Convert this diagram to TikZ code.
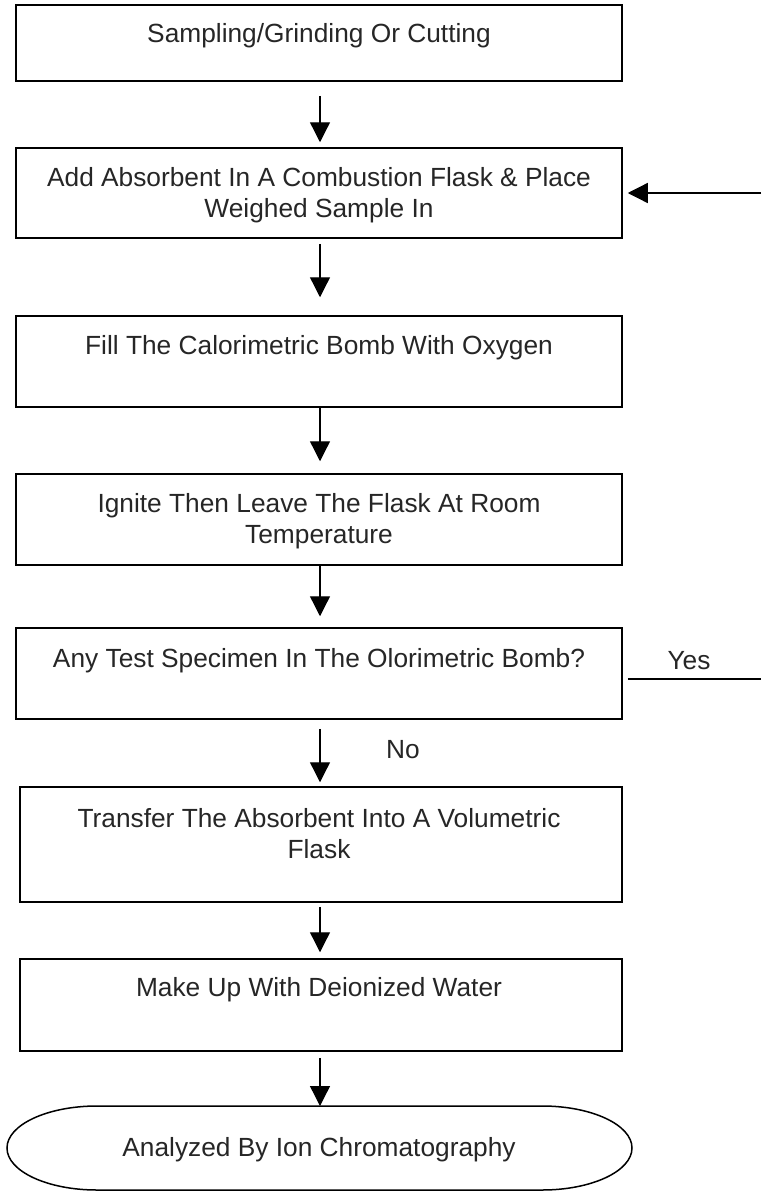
\documentclass[tikz,border=0pt]{standalone}
\usepackage{fontspec}
\setmainfont{Liberation Sans}
\usetikzlibrary{arrows.meta}
\begin{document}
\begin{tikzpicture}[x=1pt,y=-1pt,
  box/.style={draw=black,line width=1.5pt,rectangle,inner sep=0pt,minimum width=606pt},
  lbl/.style={align=center,inner sep=0pt,font=\fontsize{26.3}{31}\selectfont,text=black!85,yshift=-3pt},
  arr/.style={line width=1.3pt,-{Triangle[width=20pt,length=20pt]}},
  ln/.style={line width=1.3pt}]
\useasboundingbox (0,0) rectangle (761,1197);
% boxes
\node[box,minimum height=76pt] (b1) at (319,43) {};
\node[lbl] (t1) at (319,33) {Sampling/Grinding Or Cutting};
\node[box,minimum height=90pt] (b2) at (319,193) {};
\node[lbl] (t2) at (319,192.5) {Add Absorbent In A Combustion Flask \& Place\\Weighed Sample In};
\node[box,minimum height=91pt] (b3) at (319,361.5) {};
\node[lbl] (t3) at (319,345) {Fill The Calorimetric Bomb With Oxygen};
\node[box,minimum height=91pt] (b4) at (319,519.5) {};
\node[lbl] (t4) at (319,518.5) {Ignite Then Leave The Flask At Room\\Temperature};
\node[box,minimum height=91pt] (b5) at (319,673.5) {};
\node[lbl] (t5) at (319,658) {Any Test Specimen In The Olorimetric Bomb?};
\node[box,minimum width=602pt,minimum height=115pt] (b6) at (321,844.5) {};
\node[lbl] (t6) at (319,831) {Transfer The Absorbent Into A Volumetric\\Flask};
\node[box,minimum width=602pt,minimum height=92pt] (b7) at (321,1005) {};
\node[lbl] (t7) at (319,987) {Make Up With Deionized Water};
% terminal
\coordinate (tt) at (320,1106);
\draw[line width=1.5pt] (97,1106) -- (542,1106)
  arc[start angle=-90,end angle=90,x radius=90,y radius=42]
  -- (97,1190)
  arc[start angle=90,end angle=270,x radius=90,y radius=42] -- cycle;
\node[lbl] (t8) at (319,1147) {Analyzed By Ion Chromatography};
% labels
\node[lbl] (yes) at (689,658) {Yes};
\node[lbl] (no) at (403,747) {No};
% connectors
\coordinate (ax) at (320,0);
\draw[arr] ([yshift=-14pt]b1.south -| ax) -- ([yshift=5pt]b2.north -| ax);
\draw[arr] ([yshift=-5pt]b2.south -| ax) -- ([yshift=18pt]b3.north -| ax);
\draw[arr] (b3.south -| ax) -- ([yshift=12pt]b4.north -| ax);
\draw[arr] (b4.south -| ax) -- ([yshift=11pt]b5.north -| ax);
\draw[arr] ([yshift=-9pt]b5.south -| ax) -- ([yshift=4pt]b6.north -| ax);
\draw[arr] ([yshift=-4pt]b6.south -| ax) -- ([yshift=6pt]b7.north -| ax);
\draw[arr] ([yshift=-6pt]b7.south -| ax) -- (tt);
\coordinate (r1) at (761,193);
\coordinate (r2) at (761,679);
\draw[arr] (r1) -- ([xshift=5pt]b2.east);
\draw[ln] ([xshift=5pt]b5.east |- r2) -- (r2);
\end{tikzpicture}
\end{document}
